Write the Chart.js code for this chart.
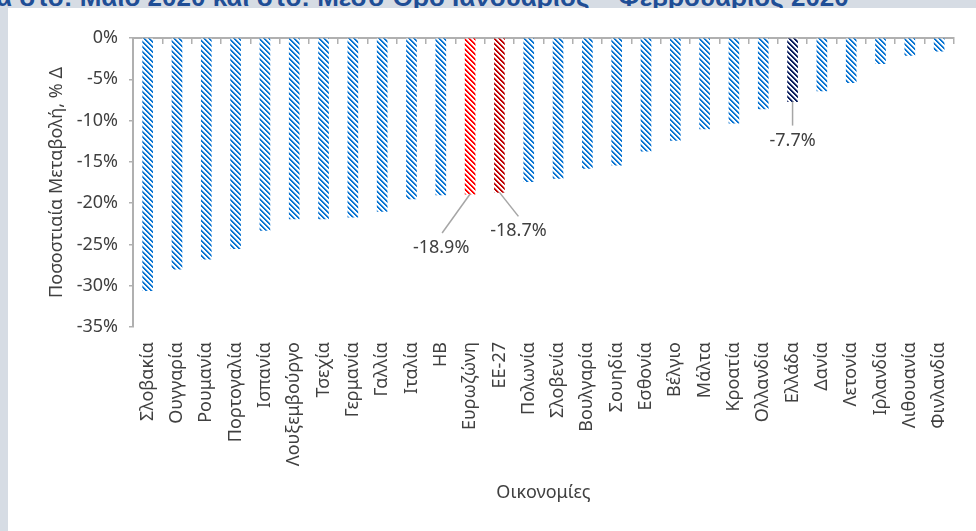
<!DOCTYPE html>
<html lang="el">
<head>
<meta charset="utf-8">
<script src="https://cdn.jsdelivr.net/npm/chart.js@4.4.1/dist/chart.umd.min.js"></script>
<style>
  html, body { margin: 0; padding: 0; }
  body { width: 976px; height: 531px; background: #d6dce4; position: relative; overflow: hidden; font-family: "Noto Sans", sans-serif; }
  .title { position: absolute; top: -16px; left: -4px; white-space: nowrap; font: bold 26px/26px "Liberation Sans", Arial, sans-serif; color: #1f4e96; }
  .panel { position: absolute; left: 8px; top: 8px; width: 968px; height: 523px; background: #fff; }
  canvas { display: block; }
</style>
</head>
<body>
<div class="title">α στο: Μάιο 2020 και στο: Μέσο Όρο Ιανουάριος – Φεβρουάριος 2020</div>
<div class="panel"><canvas id="chart" width="968" height="523"></canvas></div>
<script>
// categories in the order shown on the x axis
const categories = ['Σλοβακία', 'Ουγγαρία', 'Ρουμανία', 'Πορτογαλία', 'Ισπανία', 'Λουξεμβούργο', 'Τσεχία',
    'Γερμανία', 'Γαλλία', 'Ιταλία', 'ΗΒ', 'Ευρωζώνη', 'ΕΕ-27', 'Πολωνία', 'Σλοβενία', 'Βουλγαρία',
    'Σουηδία', 'Εσθονία', 'Βέλγιο', 'Μάλτα', 'Κροατία', 'Ολλανδία', 'Ελλάδα', 'Δανία', 'Λετονία',
    'Ιρλανδία', 'Λιθουανία', 'Φινλανδία'];

// % change
const values = [-30.6, -28.0, -26.8, -25.5, -23.3, -21.9, -21.9, -21.7, -21.0, -19.5, -19.0,
    -18.9, -18.7, -17.4, -17.0, -15.8, -15.4, -13.7, -12.4, -11.0, -10.3, -8.6, -7.7, -6.4,
    -5.4, -3.1, -2.1, -1.6];

const yTicks = [0, -5, -10, -15, -20, -25, -30, -35];

// bars with their own colour: [stripe, fringe]
const highlight = {
    'Ευρωζώνη': ['#ff0000', '#ff9d9d'],
    'ΕΕ-27': ['#c00000', '#e09a9a'],
    'Ελλάδα': ['#0b1f5e', '#8a92b2']
};
const defaultColour = ['#0b74d1', '#a3cdf0'];

// labelled bars, offsets of leader line end and text from the bar end
const callouts = [
    { name: 'Ευρωζώνη', lx: -28, ly: 39, tx: -29, ty: 54 },
    { name: 'ΕΕ-27', lx: 19, ly: 24, tx: 19, ty: 38 },
    { name: 'Ελλάδα', lx: 0, ly: 24, tx: 0, ty: 39 }
];

const TEXT = '#404040';
const AXIS = '#b0b0b0';

// diagonal stripes like the hatched fill of the original
function stripes(dark, light) {
    const n = 5;
    const c = document.createElement('canvas');
    c.width = n; c.height = n;
    const g = c.getContext('2d');
    g.fillStyle = '#fff';
    g.fillRect(0, 0, n, n);
    for (let y = 0; y < n; y++) {
        for (let x = 0; x < n; x++) {
            const d = (x - y + 2 * n) % n;
            if (d === 0 || d === 1) { g.fillStyle = dark; g.fillRect(x, y, 1, 1); }
            else if (d === 2) { g.fillStyle = light; g.fillRect(x, y, 1, 1); }
        }
    }
    return g.createPattern(c, 'repeat');
}

const fills = categories.map(c => {
    const col = highlight[c] || defaultColour;
    return stripes(col[0], col[1]);
});

// value labels with leader lines
const calloutPlugin = {
    id: 'callouts',
    afterDatasetsDraw(chart) {
        const ctx = chart.ctx;
        const xs = chart.scales.x;
        const ys = chart.scales.y;
        ctx.save();
        callouts.forEach(co => {
            const i = categories.indexOf(co.name);
            const bx = xs.getPixelForValue(i);
            const by = ys.getPixelForValue(values[i]);
            ctx.strokeStyle = '#a6a6a6';
            ctx.lineWidth = 1.5;
            ctx.beginPath();
            ctx.moveTo(bx, by);
            ctx.lineTo(bx + co.lx, by + co.ly);
            ctx.stroke();
            ctx.fillStyle = TEXT;
            ctx.font = '18px "Noto Sans"';
            ctx.textAlign = 'center';
            ctx.textBaseline = 'middle';
            ctx.fillText(values[i].toFixed(1) + '%', bx + co.tx, by + co.ty);
        });
        ctx.restore();
    }
};

new Chart(document.getElementById('chart'), {
    type: 'bar',
    data: {
        labels: categories,
        datasets: [{
            data: values,
            backgroundColor: fills,
            borderWidth: 0,
            barThickness: 10
        }]
    },
    plugins: [calloutPlugin],
    options: {
        responsive: false,
        animation: false,
        layout: { padding: { top: 30, right: 15, left: 0, bottom: 0 } },
        plugins: { legend: { display: false }, tooltip: { enabled: false } },
        scales: {
            x: {
                type: 'category',
                position: 'bottom',
                offset: true,
                grid: { display: false, drawTicks: false },
                border: { display: false },
                ticks: {
                    autoSkip: false,
                    minRotation: 90,
                    maxRotation: 90,
                    padding: 15,
                    color: TEXT,
                    font: { family: 'Noto Sans', size: 18 }
                },
                title: {
                    display: true,
                    text: 'Οικονομίες',
                    color: TEXT,
                    font: { family: 'Noto Sans', size: 18 },
                    padding: { top: 0, bottom: 27 }
                },
                afterFit: s => { s.height = 204; }
            },
            // zero line with the small category ticks
            x2: {
                type: 'category',
                axis: 'x',
                labels: categories,
                position: { y: 0 },
                offset: true,
                grid: { display: true, offset: true, drawOnChartArea: false, drawTicks: true, tickLength: 5, color: AXIS, lineWidth: 1.5 },
                border: { display: true, color: AXIS, width: 2 },
                ticks: { display: false }
            },
            y: {
                min: -35,
                max: 0,
                afterBuildTicks: s => { s.ticks = yTicks.map(v => ({ value: v })); },
                grid: { display: true, drawOnChartArea: false, tickLength: 4, color: AXIS, lineWidth: 1.5 },
                border: { display: true, color: AXIS, width: 2 },
                ticks: {
                    padding: 11,
                    color: TEXT,
                    font: { family: 'Noto Sans', size: 18 },
                    callback: v => v + '%'
                },
                title: {
                    display: true,
                    text: 'Ποσοστιαία Μεταβολή, % Δ',
                    color: TEXT,
                    font: { family: 'Noto Sans', size: 18 },
                    padding: { top: 38, bottom: 0 }
                },
                afterFit: s => { s.width = 125; }
            }
        }
    }
});
</script>
</body>
</html>
